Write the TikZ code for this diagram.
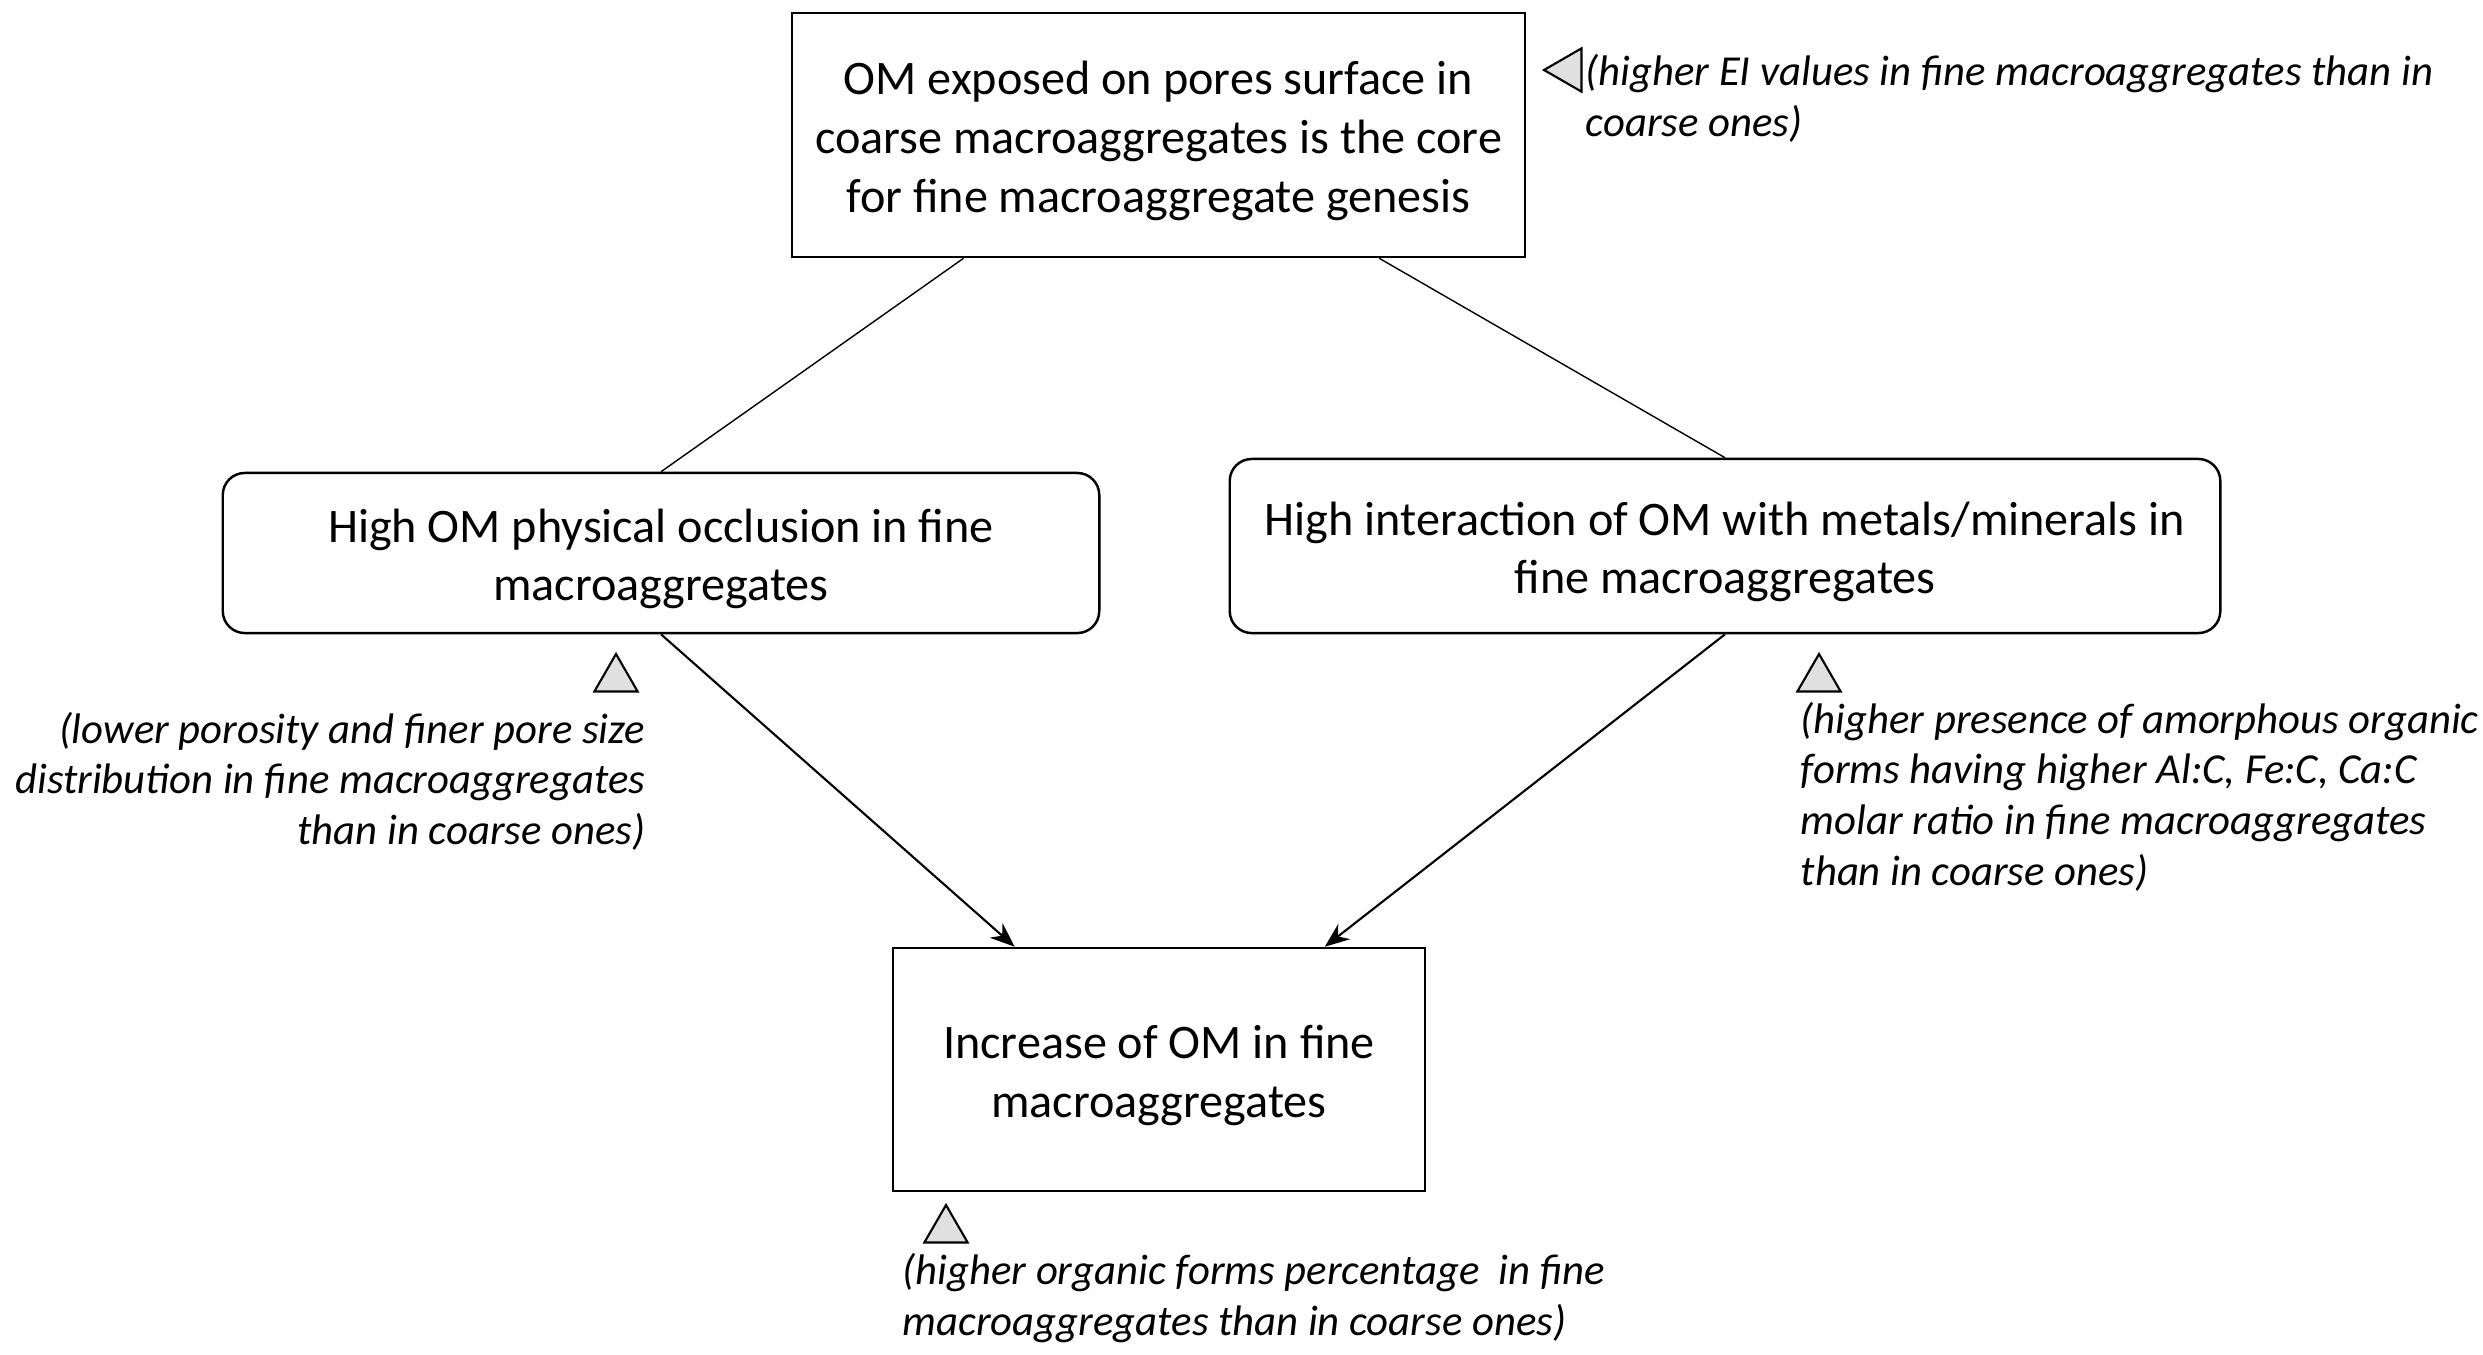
\documentclass[tikz,border=0pt]{standalone}
\usepackage{fontspec}
\setmainfont{Carlito}
\usetikzlibrary{shapes.geometric,arrows.meta,calc}
\newcommand\topstrut{\rule{0pt}{12.9pt}}
\tikzset{
  mainbox/.style={draw=black, line width=0.7pt, fill=white, inner sep=0pt, align=center,
    font=\fontsize{13.7}{16.7}\selectfont},
  roundbox/.style={mainbox, rounded corners=0.22cm},
  link/.style={draw=black, line width=0.4pt},
  flow/.style={draw=black, line width=0.6pt, -{Stealth[length=7pt,width=5.5pt]}},
  note/.style={inner sep=0pt, font=\fontsize{12.15}{14.4}\selectfont\itshape},
  tri/.style={draw=black, line width=0.6pt, fill=black!12, regular polygon, regular polygon sides=3,
    minimum size=0.5cm, inner sep=0pt}
}
\begin{document}
\begin{tikzpicture}[x=0.01cm, y=-0.01cm]
\useasboundingbox (0,0) rectangle (2483,1354);

\node[mainbox, minimum width=7.33cm, minimum height=2.44cm] (top) at (1158.5,135)
  {\topstrut OM exposed on pores surface in\\coarse macroaggregates is the core\\for fine macroaggregate genesis};
\node[roundbox, minimum width=8.76cm, minimum height=1.60cm] (left) at (661,553)
  {\topstrut High OM physical occlusion in fine\\macroaggregates};
\node[roundbox, minimum width=9.90cm, minimum height=1.74cm] (right) at (1725,546)
  {\topstrut High interaction of OM with metals/minerals in\\fine macroaggregates};
\node[mainbox, minimum width=5.32cm, minimum height=2.43cm] (bottom) at (1159,1069.5)
  {\topstrut Increase of OM in fine\\macroaggregates};

\coordinate (tl) at ($(top.south west)!0.235!(top.south east)$);
\coordinate (tr) at ($(top.south west)!0.80!(top.south east)$);
\coordinate (bl) at ($(bottom.north west)!0.23!(bottom.north east)$);
\coordinate (br) at ($(bottom.north west)!0.81!(bottom.north east)$);

\draw[link] (tl) -- (left.north);
\draw[link] (tr) -- (right.north);
\draw[flow] (left.south) -- (bl);
\draw[flow] (right.south) -- (br);

\node[tri, shape border rotate=90] (t0) at (1569,70) {};
\node[tri] (t1) at (616,679) {};
\node[tri] (t2) at (1819,679) {};
\node[tri] (t3) at (946,1230) {};

\node[note, align=left, anchor=west] (n0) at (1585,98.5)
  {(higher EI values in fine macroaggregates than in\\coarse ones)};
\node[note, align=right, anchor=east] (n1) at (646,781)
  {(lower porosity and finer pore size\\distribution in fine macroaggregates\\than in coarse ones)};
\node[note, align=left, anchor=west] (n2) at (1800,796.5)
  {(higher presence of amorphous organic\\forms having higher Al:C, Fe:C, Ca:C\\molar ratio in fine macroaggregates\\than in coarse ones)};
\node[note, align=left, anchor=west] (n3) at (902,1298)
  {(higher organic forms percentage\ \ in fine\\macroaggregates than in coarse ones)};
\end{tikzpicture}
\end{document}
